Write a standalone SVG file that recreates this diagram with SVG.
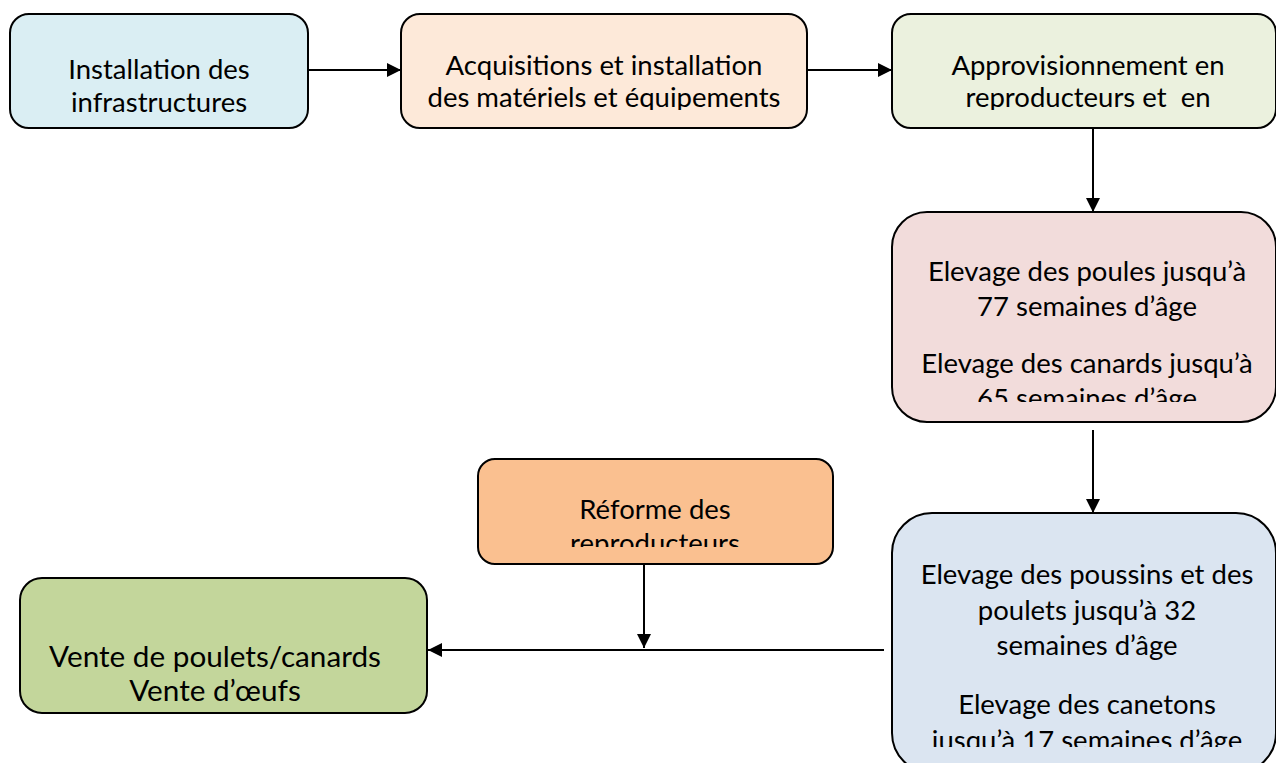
<svg xmlns="http://www.w3.org/2000/svg" width="1276" height="763" viewBox="0 0 1276 763">
<style>
.box{stroke:#000;stroke-width:2}
.t{font-family:Lato,"Liberation Sans",sans-serif;font-size:27.5px;fill:#000;text-anchor:middle}
.big{font-size:29.7px}
.c{stroke:#000;stroke-width:2;fill:none}
</style>
<defs>
<marker id="ah" viewBox="0 0 14 14" refX="14" refY="7" markerWidth="14" markerHeight="14" markerUnits="userSpaceOnUse" orient="auto">
<path d="M0,0 L14,7 L0,14 Z" fill="#000"/>
</marker>
<clipPath id="c2"><rect x="401" y="14" width="406" height="96"/></clipPath>
<clipPath id="c3"><rect x="892" y="14" width="390" height="96"/></clipPath>
<clipPath id="c4"><rect x="892" y="212" width="390" height="190"/></clipPath>
<clipPath id="c5"><rect x="892" y="513" width="390" height="234"/></clipPath>
<clipPath id="c6"><rect x="478" y="459" width="355" height="88"/></clipPath>
</defs>
<g id="connectors">
<line class="c" x1="308" y1="70" x2="401" y2="70" marker-end="url(#ah)"/>
<line class="c" x1="807" y1="70" x2="892" y2="70" marker-end="url(#ah)"/>
<line class="c" x1="1093" y1="128" x2="1093" y2="212" marker-end="url(#ah)"/>
<line class="c" x1="1093" y1="430" x2="1093" y2="513" marker-end="url(#ah)"/>
<line class="c" x1="644" y1="564" x2="644" y2="648" marker-end="url(#ah)"/>
<line class="c" x1="884" y1="650" x2="428" y2="650" marker-end="url(#ah)"/>
</g>
<g id="n1">
<rect class="box" x="10" y="14" width="298" height="114" rx="19" fill="#DAEEF3"/>
<text class="t" x="159" y="79">Installation des</text>
<text class="t" x="159" y="112">infrastructures</text>
</g>
<g id="n2">
<rect class="box" x="401" y="14" width="406" height="114" rx="19" fill="#FDE9D9"/>
<g clip-path="url(#c2)">
<text class="t" x="604" y="75">Acquisitions et installation</text>
<text class="t" x="604" y="107">des matériels et équipements</text>
</g>
</g>
<g id="n3">
<rect class="box" x="892" y="14" width="384" height="114" rx="19" fill="#EBF1DE"/>
<g clip-path="url(#c3)">
<text class="t" x="1088" y="75">Approvisionnement en</text>
<text class="t" x="1088" y="107" xml:space="preserve">reproducteurs et  en</text>
</g>
</g>
<g id="n4">
<rect class="box" x="892" y="212" width="384" height="210" rx="35" fill="#F2DCDB"/>
<g clip-path="url(#c4)">
<text class="t" x="1087" y="281">Elevage des poules jusqu’à</text>
<text class="t" x="1087" y="316">77 semaines d’âge</text>
<text class="t" x="1087" y="373">Elevage des canards jusqu’à</text>
<text class="t" x="1087" y="408">65 semaines d’âge</text>
</g>
</g>
<g id="n5">
<rect class="box" x="892" y="513" width="384" height="260" rx="40" fill="#DBE5F1"/>
<g clip-path="url(#c5)">
<text class="t" x="1087" y="584">Elevage des poussins et des</text>
<text class="t" x="1087" y="620">poulets jusqu’à 32</text>
<text class="t" x="1087" y="655">semaines d’âge</text>
<text class="t" x="1087" y="714">Elevage des canetons</text>
<text class="t" x="1087" y="750">jusqu’à 17 semaines d’âge</text>
</g>
</g>
<g id="n6">
<rect class="box" x="478" y="459" width="355" height="105" rx="17" fill="#FAC090"/>
<g clip-path="url(#c6)">
<text class="t" x="655" y="519">Réforme des</text>
<text class="t" x="655" y="553">reproducteurs</text>
</g>
</g>
<g id="n7">
<rect class="box" x="20" y="578" width="407" height="135" rx="22" fill="#C3D69B"/>
<text class="t big" x="215" y="667">Vente de poulets/canards</text>
<text class="t big" x="215" y="701">Vente d’œufs</text>
</g>
</svg>
